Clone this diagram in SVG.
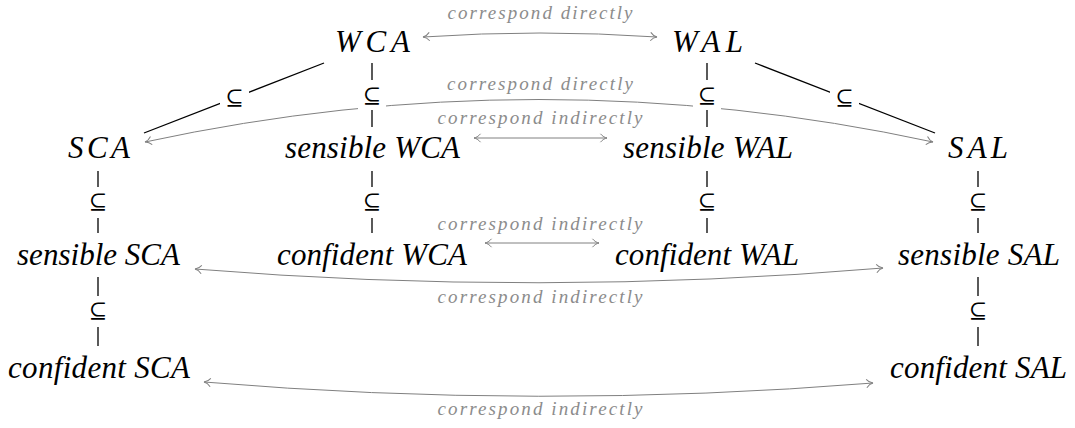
<svg xmlns="http://www.w3.org/2000/svg" width="1075" height="428" viewBox="0 0 1075 428">
  <style>
    .node { font-family: "Liberation Serif", "DejaVu Serif", serif; font-style: italic; font-size: 31px; fill: #000; text-anchor: middle; }
    .rel { font-family: "Liberation Serif", "DejaVu Serif", serif; font-style: italic; font-size: 19px; fill: #8c8c8c; text-anchor: middle; }
    .sub { font-family: "DejaVu Serif", "DejaVu Sans", serif; font-size: 22px; fill: #000; text-anchor: middle; }
    .subbox { fill: #fff; stroke: none; }
    .inc { stroke: #000; stroke-width: 1.3; fill: none; }
    .corr { stroke: #808080; stroke-width: 1; fill: none; marker-start: url(#tip); marker-end: url(#tip); }
  </style>
  <defs>
    <!-- open curved arrow tip, reused on both ends of every correspondence -->
    <marker id="tip" viewBox="-8 -6 9 12" markerWidth="9" markerHeight="12" refX="0" refY="0" markerUnits="userSpaceOnUse" orient="auto-start-reverse">
      <path d="M -6.5,-4.2 C -4.5,-1.6 -1.8,-0.3 0,0 C -1.8,0.3 -4.5,1.6 -6.5,4.2" fill="none" stroke="#808080" stroke-width="1"/>
    </marker>
  </defs>
  <rect width="1075" height="428" fill="#fff"/>

  <g id="connectors">
    <!-- correspondences (gray, two-headed) -->
    <path class="corr" d="M 423 37 Q 540 29 657 37"/>
    <path class="corr" d="M 145 142 Q 539 57 933 142"/>
    <path class="corr" d="M 474 138 L 607 138"/>
    <path class="corr" d="M 485 243 L 599 243"/>
    <path class="corr" d="M 195 269 Q 539 297 883 268"/>
    <path class="corr" d="M 204 382 Q 539 410 873 383"/>

    <text class="rel" x="540" y="19" textLength="185" lengthAdjust="spacing">correspond directly</text>
    <text class="rel" x="540" y="90" textLength="186" lengthAdjust="spacing">correspond directly</text>
    <text class="rel" x="540" y="124" textLength="205" lengthAdjust="spacing">correspond indirectly</text>
    <text class="rel" x="540" y="230" textLength="205" lengthAdjust="spacing">correspond indirectly</text>
    <text class="rel" x="540" y="303" textLength="205" lengthAdjust="spacing">correspond indirectly</text>
    <text class="rel" x="540" y="415" textLength="205" lengthAdjust="spacing">correspond indirectly</text>

    <!-- inclusions (black) -->
    <line class="inc" x1="324" y1="63" x2="144" y2="133"/>
    <line class="inc" x1="755" y1="63" x2="935" y2="133"/>
    <line class="inc" x1="372" y1="63" x2="372" y2="127"/>
    <line class="inc" x1="707" y1="63" x2="707" y2="127"/>
    <line class="inc" x1="98" y1="171" x2="98" y2="233"/>
    <line class="inc" x1="372" y1="171" x2="372" y2="233"/>
    <line class="inc" x1="707" y1="171" x2="707" y2="233"/>
    <line class="inc" x1="978" y1="171" x2="978" y2="233"/>
    <line class="inc" x1="98" y1="277" x2="98" y2="346"/>
    <line class="inc" x1="978" y1="277" x2="978" y2="346"/>

    <!-- inclusion labels on white backing -->
    <g id="sub-wca-sca"><rect class="subbox" x="220" y="83" width="29" height="30"/><text class="sub" x="234.5" y="105">⊆</text></g>
    <g id="sub-wal-sal"><rect class="subbox" x="830" y="83" width="29" height="30"/><text class="sub" x="844.5" y="105">⊆</text></g>
    <g id="sub-wca"><rect class="subbox" x="358" y="80" width="28" height="30"/><text class="sub" x="372" y="103">⊆</text></g>
    <g id="sub-wal"><rect class="subbox" x="693" y="80" width="28" height="30"/><text class="sub" x="707" y="103">⊆</text></g>
    <g id="sub-sca"><rect class="subbox" x="84" y="187" width="28" height="31"/><text class="sub" x="98" y="209">⊆</text></g>
    <g id="sub-swca"><rect class="subbox" x="358" y="187" width="28" height="31"/><text class="sub" x="372" y="209">⊆</text></g>
    <g id="sub-swal"><rect class="subbox" x="693" y="187" width="28" height="31"/><text class="sub" x="707" y="209">⊆</text></g>
    <g id="sub-sal"><rect class="subbox" x="964" y="187" width="28" height="31"/><text class="sub" x="978" y="209">⊆</text></g>
    <g id="sub-ssca"><rect class="subbox" x="84" y="296" width="28" height="31"/><text class="sub" x="98" y="318">⊆</text></g>
    <g id="sub-ssal"><rect class="subbox" x="964" y="296" width="28" height="31"/><text class="sub" x="978" y="318">⊆</text></g>
  </g>

  <g id="n-wca"><text class="node" x="372.5" y="52" textLength="75" lengthAdjust="spacing">WCA</text></g>
  <g id="n-wal"><text class="node" x="707.5" y="52" textLength="71" lengthAdjust="spacing">WAL</text></g>
  <g id="n-sca"><text class="node" x="99" y="158" textLength="62" lengthAdjust="spacing">SCA</text></g>
  <g id="n-swca"><text class="node" x="372.5" y="158" textLength="175" lengthAdjust="spacing">sensible WCA</text></g>
  <g id="n-swal"><text class="node" x="708" y="158" textLength="170" lengthAdjust="spacing">sensible WAL</text></g>
  <g id="n-sal"><text class="node" x="978" y="158" textLength="60" lengthAdjust="spacing">SAL</text></g>
  <g id="n-ssca"><text class="node" x="98.5" y="265" textLength="163" lengthAdjust="spacing">sensible SCA</text></g>
  <g id="n-cwca"><text class="node" x="372" y="265" textLength="190" lengthAdjust="spacing">confident WCA</text></g>
  <g id="n-cwal"><text class="node" x="707" y="265" textLength="184" lengthAdjust="spacing">confident WAL</text></g>
  <g id="n-ssal"><text class="node" x="979" y="265" textLength="162" lengthAdjust="spacing">sensible SAL</text></g>
  <g id="n-csca"><text class="node" x="99" y="378" textLength="182" lengthAdjust="spacing">confident SCA</text></g>
  <g id="n-csal"><text class="node" x="978.5" y="378" textLength="177" lengthAdjust="spacing">confident SAL</text></g>
</svg>
